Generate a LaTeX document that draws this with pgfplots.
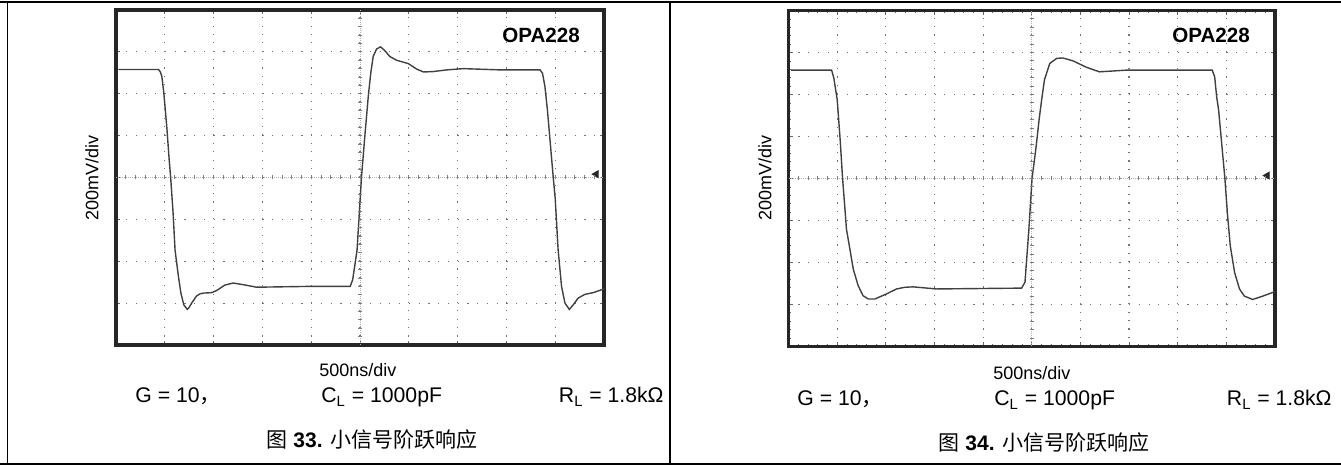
\documentclass[border=0pt]{standalone}
\usepackage{pgfplots}
\usepackage{pgfplotstable}
\pgfplotsset{compat=1.18}
\usepackage{fontspec}
\setmainfont{Liberation Sans}
\newfontfamily\cjk{Noto Sans CJK SC}

\pgfplotstableread{
x y
0.05 2.58
0.50 2.58
0.87 2.58
0.91 2.52
0.94 2.41
0.98 2.02
1.04 1.22
1.09 0.42
1.12 0.00
1.17 -0.85
1.21 -1.73
1.28 -2.37
1.33 -2.76
1.39 -3.04
1.46 -3.15
1.50 -3.10
1.55 -3.00
1.65 -2.83
1.72 -2.78
1.79 -2.76
1.96 -2.75
2.06 -2.70
2.23 -2.57
2.40 -2.52
2.61 -2.56
2.88 -2.62
3.98 -2.60
4.80 -2.60
4.85 -2.44
4.90 -2.05
4.94 -1.73
5.03 0.00
5.10 1.00
5.17 1.94
5.22 2.49
5.27 2.89
5.34 3.07
5.42 3.12
5.51 3.03
5.61 2.89
5.75 2.80
5.99 2.72
6.16 2.59
6.30 2.52
6.50 2.53
6.78 2.57
7.12 2.60
7.87 2.57
8.69 2.57
8.74 2.49
8.79 2.17
8.84 1.62
8.96 0.00
9.00 -0.50
9.06 -1.73
9.13 -2.60
9.20 -3.00
9.29 -3.15
9.37 -3.04
9.47 -2.88
9.61 -2.79
9.78 -2.75
9.95 -2.68
10.0 -2.66
}\dataA

\pgfplotstableread{
x y
0.05 2.58
0.885 2.58
0.93 2.39
1.00 1.87
1.06 0.92
1.11 0.00
1.15 -0.60
1.19 -1.21
1.26 -1.68
1.33 -2.16
1.43 -2.55
1.53 -2.79
1.64 -2.87
1.77 -2.87
2.01 -2.75
2.22 -2.63
2.39 -2.59
2.56 -2.58
3.04 -2.63
4.79 -2.61
4.86 -2.47
4.90 -1.84
4.94 -1.21
5.005 0.00
5.09 0.77
5.15 1.40
5.20 1.85
5.26 2.35
5.37 2.74
5.51 2.86
5.64 2.87
5.85 2.80
6.12 2.65
6.39 2.54
6.67 2.56
6.94 2.58
8.71 2.58
8.76 2.42
8.80 1.95
8.84 1.64
8.97 0.00
9.02 -0.81
9.08 -1.60
9.17 -2.24
9.27 -2.63
9.37 -2.80
9.54 -2.88
9.75 -2.80
9.96 -2.71
10.0 -2.69
}\dataB

\pgfplotsset{scopestyle/.style={
  scale only axis, anchor=south west,
  xmin=0, xmax=10, ymin=-4, ymax=4,
  xtick={0,...,10}, ytick={-4,...,4},
  minor x tick num=4, minor y tick num=4,
  xticklabel=\empty, yticklabel=\empty,
  tick align=inside, major tick length=2pt, minor tick length=1.2pt,
  tick style={black!60, line width=0.4pt},
  grid=major,
  axis line style={line width=1.7pt, black!85},
}}

\begin{document}
\begin{tikzpicture}
\useasboundingbox (0,0) rectangle (670.5pt,233pt);
% panel borders
\draw[line width=0.8pt] (0pt,232pt) -- (670.5pt,232pt);
\draw[line width=0.8pt] (0pt,1pt) -- (670.5pt,1pt);
\draw[line width=0.8pt] (3.75pt,1pt) -- (3.75pt,232pt);
\draw[line width=0.8pt] (335pt,1pt) -- (335pt,232pt);

% ---------- left scope ----------
\begin{axis}[scopestyle, at={(58pt,60.5pt)}, width=244pt, height=167.5pt,
  major x grid style={black!55, line width=0.6pt, dash pattern=on 0.6pt off 3.5875pt},
  major y grid style={black!55, line width=0.6pt, dash pattern=on 0.6pt off 4.28pt}]
\addplot[black!30, line width=0.5pt, dash pattern=on 0.5pt off 0.5pt, forget plot] coordinates {(0,0) (10,0)};
\addplot[black!30, line width=0.5pt, dash pattern=on 0.5pt off 0.5pt, forget plot] coordinates {(5,-4) (5,4)};
\addplot[black!75, line width=0.7pt] table {\dataA};
\addplot[only marks, mark=triangle*, mark size=2pt, mark options={rotate=90, fill=black!85, draw=black!85}] coordinates {(9.84,0.08)};
\end{axis}
\foreach \i in {1,...,49} \draw[black!50, line width=0.4pt] (58pt+\i*4.88pt,143.25pt) -- ++(0,2pt);
\foreach \i in {1,...,39} \draw[black!50, line width=0.4pt] (179pt,60.5pt+\i*4.1875pt) -- ++(2pt,0);

\node[font=\bfseries\fontsize{10.3pt}{12pt}\selectfont, anchor=center] at (270.5pt,215.5pt) {OPA228};
\node[font=\fontsize{9pt}{11pt}\selectfont, rotate=90, anchor=center] at (46pt,144pt) {200mV/div};
\node[font=\fontsize{9pt}{11pt}\selectfont, anchor=base west, inner sep=0pt] at (159.5pt,44.5pt) {500ns/div};
\node[font=\fontsize{10.6pt}{12pt}\selectfont, anchor=base west, inner sep=0pt] at (67.5pt,31.5pt) {G = 10{\cjk ，}};
\node[font=\fontsize{10.6pt}{12pt}\selectfont, anchor=base west, inner sep=0pt] at (160.5pt,31.5pt) {C\textsubscript{L} = 1000pF};
\node[font=\fontsize{10.6pt}{12pt}\selectfont, anchor=base east, inner sep=0pt] at (332pt,31.5pt) {R\textsubscript{L} = 1.8kΩ};
\node[font=\fontsize{10.5pt}{12pt}\selectfont, anchor=base, inner sep=0pt] at (186pt,9pt) {{\cjk 图} \textbf{33.} {\cjk 小信号阶跃响应}};

% ---------- right scope ----------
\begin{axis}[scopestyle, at={(394.3pt,59.75pt)}, width=243.2pt, height=168pt,
  major x grid style={black!55, line width=0.6pt, dash pattern=on 0.6pt off 3.6pt},
  major y grid style={black!55, line width=0.6pt, dash pattern=on 0.6pt off 4.264pt}]
\addplot[black!30, line width=0.5pt, dash pattern=on 0.5pt off 0.5pt, forget plot] coordinates {(0,0) (10,0)};
\addplot[black!30, line width=0.5pt, dash pattern=on 0.5pt off 0.5pt, forget plot] coordinates {(5,-4) (5,4)};
\addplot[black!75, line width=0.7pt] table {\dataB};
\addplot[only marks, mark=triangle*, mark size=2pt, mark options={rotate=90, fill=black!85, draw=black!85}] coordinates {(9.84,0.07)};
\end{axis}
\foreach \i in {1,...,49} \draw[black!50, line width=0.4pt] (394.3pt+\i*4.864pt,142.75pt) -- ++(0,2pt);
\foreach \i in {1,...,39} \draw[black!50, line width=0.4pt] (514.9pt,59.75pt+\i*4.2pt) -- ++(2pt,0);

\node[font=\bfseries\fontsize{10.3pt}{12pt}\selectfont, anchor=center] at (605.5pt,215.5pt) {OPA228};
\node[font=\fontsize{9pt}{11pt}\selectfont, rotate=90, anchor=center] at (382.5pt,144pt) {200mV/div};
\node[font=\fontsize{9pt}{11pt}\selectfont, anchor=base west, inner sep=0pt] at (496.5pt,43pt) {500ns/div};
\node[font=\fontsize{10.6pt}{12pt}\selectfont, anchor=base west, inner sep=0pt] at (398.5pt,30pt) {G = 10{\cjk ，}};
\node[font=\fontsize{10.6pt}{12pt}\selectfont, anchor=base west, inner sep=0pt] at (497pt,30pt) {C\textsubscript{L} = 1000pF};
\node[font=\fontsize{10.6pt}{12pt}\selectfont, anchor=base east, inner sep=0pt] at (666pt,30pt) {R\textsubscript{L} = 1.8kΩ};
\node[font=\fontsize{10.5pt}{12pt}\selectfont, anchor=base, inner sep=0pt] at (522pt,7.5pt) {{\cjk 图} \textbf{34.} {\cjk 小信号阶跃响应}};
\end{tikzpicture}
\end{document}
